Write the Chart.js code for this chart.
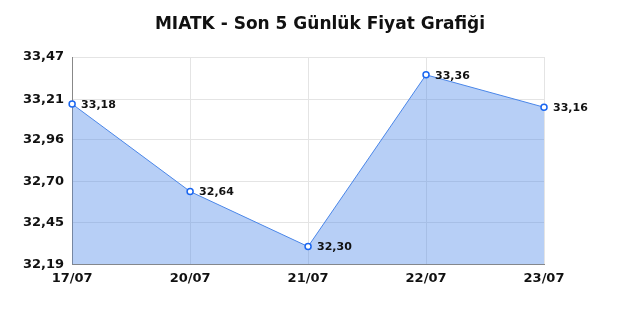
<!DOCTYPE html>
<html><head><meta charset="utf-8">
<script src="https://cdn.jsdelivr.net/npm/chart.js@4/dist/chart.umd.min.js"></script>
<style>html,body{margin:0;padding:0;background:#fff}#wrap{width:640px;height:320px}</style>
</head><body><div id="wrap"><canvas id="c" width="640" height="320"></canvas></div>
<script>
const chartTitle = "MIATK - Son 5 Günlük Fiyat Grafiği";
const categories = ["17/07", "20/07", "21/07", "22/07", "23/07"];
const prices = [33.18, 32.64, 32.30, 33.36, 33.16];
const yTicks = [32.19, 32.45, 32.70, 32.96, 33.21, 33.47];

const fmt = v => v.toFixed(2).replace('.', ',');

const labelPlugin = {
  id: 'pointLabels',
  afterDatasetsDraw(chart) {
    const ctx = chart.ctx;
    const meta = chart.getDatasetMeta(0);
    ctx.save();
    ctx.font = 'bold 11px "DejaVu Sans"';
    ctx.fillStyle = '#111';
    ctx.textAlign = 'left';
    ctx.textBaseline = 'middle';
    meta.data.forEach((pt, i) => {
      ctx.fillText(fmt(prices[i]), pt.x + 9, pt.y + 1);
    });
    ctx.restore();
  }
};

const titlePlugin = {
  id: 'centerTitle',
  afterDraw(chart) {
    const ctx = chart.ctx;
    ctx.save();
    ctx.font = 'bold 17px "DejaVu Sans"';
    ctx.fillStyle = '#111';
    ctx.textAlign = 'center';
    ctx.textBaseline = 'middle';
    ctx.fillText(chartTitle, chart.width / 2, 25);
    ctx.restore();
  }
};

new Chart(document.getElementById('c'), {
  type: 'line',
  data: {
    labels: categories,
    datasets: [{
      data: prices,
      borderColor: '#4a86e8',
      borderWidth: 1,
      backgroundColor: 'rgba(74,134,232,0.4)',
      fill: 'start',
      tension: 0,
      pointRadius: 3,
      pointBorderWidth: 1.5,
      pointBackgroundColor: '#fff',
      pointBorderColor: '#1a66f0'
    }]
  },
  options: {
    responsive: false,
    animation: false,
    layout: { padding: { left: 15, right: 96, top: 57, bottom: 28 } },
    plugins: {
      legend: { display: false },
      tooltip: { enabled: false },
      title: { display: false }
    },
    scales: {
      x: {
        offset: false,
        grid: { color: '#e4e4e4', drawTicks: false },
        border: { color: '#888', width: 1 },
        ticks: { color: '#111', padding: 6, font: { family: 'DejaVu Sans', size: 13, weight: 'bold' } }
      },
      y: {
        min: yTicks[0],
        max: yTicks[yTicks.length - 1],
        afterBuildTicks(axis) { axis.ticks = yTicks.map(v => ({ value: v })); },
        grid: { color: '#e4e4e4', drawTicks: false },
        border: { color: '#888', width: 1 },
        ticks: {
          color: '#111', padding: 8,
          font: { family: 'DejaVu Sans', size: 13, weight: 'bold' },
          callback: v => fmt(v)
        }
      }
    }
  },
  plugins: [labelPlugin, titlePlugin]
});
</script></body></html>
